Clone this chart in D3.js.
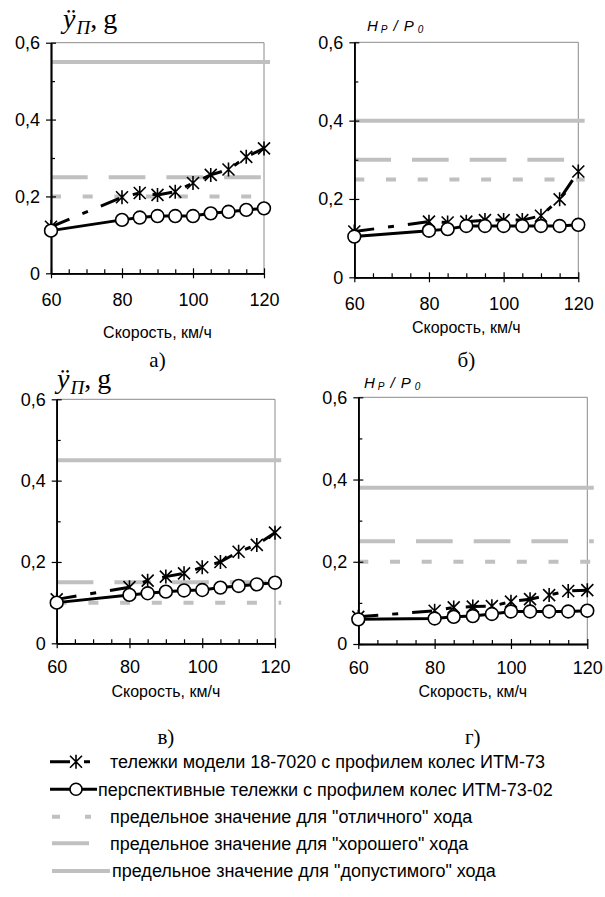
<!DOCTYPE html>
<html>
<head>
<meta charset="utf-8">
<script src="https://cdn.jsdelivr.net/npm/d3@7"></script>
<style>
  body { margin: 0; background: #fff; }
  svg { display: block; }
</style>
</head>
<body>
<div id="chart"></div>
<script>

// Скорость, км/ч
const speeds = [60, 80, 85, 90, 95, 100, 105, 110, 115, 120];

// а) ускорения, g
const oldA = [0.121, 0.198, 0.209, 0.204, 0.212, 0.235, 0.256, 0.27, 0.303, 0.325];
const newA = [0.111, 0.139, 0.145, 0.149, 0.149, 0.149, 0.156, 0.16, 0.165, 0.169];
// б) Hp/P0
const oldB = [0.117, 0.142, 0.14, 0.142, 0.146, 0.146, 0.146, 0.157, 0.199, 0.27];
const newB = [0.104, 0.119, 0.123, 0.131, 0.131, 0.131, 0.131, 0.131, 0.131, 0.134];
// в) ускорения, g
const oldC = [0.108, 0.138, 0.154, 0.164, 0.172, 0.187, 0.2, 0.225, 0.242, 0.272];
const newC = [0.1, 0.119, 0.123, 0.127, 0.13, 0.131, 0.137, 0.141, 0.145, 0.149];
// г) Hp/P0
const oldD = [0.066, 0.081, 0.089, 0.091, 0.092, 0.103, 0.109, 0.119, 0.129, 0.131];
const newD = [0.06, 0.062, 0.066, 0.068, 0.073, 0.079, 0.079, 0.079, 0.079, 0.081];

// пределы: отличный, хороший, допустимый
const limitsA = [0.2, 0.25, 0.55];
const limitsB = [0.25, 0.3, 0.4];
const limitsC = [0.1, 0.15, 0.45];
const limitsD = [0.2, 0.25, 0.38];
const limitSpan = [60, 121.7];

const yTicks = [0, 0.2, 0.4, 0.6];
const yMinor = [0.1, 0.3, 0.5];
const xTicks = [60, 80, 100, 120];
const xMinor = [65, 70, 75, 85, 90, 95, 105, 110, 115];
const panelLetters = ["а)", "б)", "в)", "г)"];
const xTitle = "Скорость, км/ч";

const legendTexts = [
  "тележки модели 18-7020 с профилем колес ИТМ-73",
  "перспективные тележки с профилем колес ИТМ-73-02",
  "предельное значение для \"отличного\" хода",
  "предельное значение для \"хорошего\" хода",
  "предельное значение для \"допустимого\" хода"
];

const WIDTH = 605;
const HEIGHT = 897;
const SANS = "'Liberation Sans', Arial, sans-serif";
const SERIF = "'Liberation Serif', 'Times New Roman', serif";
const GRAY = "#c0c0c0";
const LIMIT_DASH = ["10,21.7", "36.7,21", null];
const OLD_DASH = "20,14,6,14";

const SVG = d3.select("#chart").append("svg")
  .attr("width", WIDTH)
  .attr("height", HEIGHT);

const LAYOUT = [
  { left: 51, right: 264, top: 42.7, bottom: 273.3, pad: 15, titleY: 338, letterY: 367, head: "acc", headX: 63, headY: 28 },
  { left: 354.3, right: 578.3, top: 42.3, bottom: 277.3, pad: 15, titleY: 333, letterY: 367, head: "hp", headX: 367, headY: 31 },
  { left: 56.7, right: 275, top: 399.3, bottom: 643.3, pad: 12, titleY: 697, letterY: 744, head: "acc", headX: 57, headY: 388 },
  { left: 358.3, right: 587.3, top: 397.3, bottom: 644, pad: 12, titleY: 697, letterY: 744, head: "hp", headX: 364, headY: 388 }
];

const DATOS = [
  [oldA, newA, limitsA],
  [oldB, newB, limitsB],
  [oldC, newC, limitsC],
  [oldD, newD, limitsD]
];

const starPath = "M-6,-6L6,6M-6,6L6,-6M0,-7L0,7";

function crearPanel(cfg, datosViejos, datosNuevos, limites, letra) {

  const escalaX = d3.scaleLinear().domain([60, 120]).range([cfg.left, cfg.right]);
  const escalaY = d3.scaleLinear().domain([0, 0.6]).range([cfg.bottom, cfg.top]);

  const g = SVG.append("g");

  // marco gris
  g.append("path")
    .attr("d", `M${escalaX(60)},${escalaY(0.6)}H${escalaX(120)}V${escalaY(0)}`)
    .attr("fill", "none")
    .attr("stroke", "#8a8a8a")
    .attr("stroke-width", 1);

  // lineas limite
  limites.forEach((v, i) => {
    g.append("line")
      .attr("x1", escalaX(limitSpan[0]))
      .attr("x2", escalaX(limitSpan[1]))
      .attr("y1", escalaY(v))
      .attr("y2", escalaY(v))
      .attr("stroke", GRAY)
      .attr("stroke-width", 4)
      .attr("stroke-dasharray", LIMIT_DASH[i]);
  });

  // ejes
  const ejeY = g.append("g").attr("transform", `translate(${cfg.left},0)`);
  ejeY.call(d3.axisLeft(escalaY).tickValues(yTicks).tickSize(5).tickSizeOuter(0).tickPadding(6)
    .tickFormat(d => d === 0 ? "0" : d3.format(".1f")(d).replace(".", ",")));
  ejeY.append("g").call(d3.axisLeft(escalaY).tickValues(yTicks).tickSize(-5).tickSizeOuter(0).tickFormat(""));
  ejeY.append("g").call(d3.axisLeft(escalaY).tickValues(yMinor).tickSize(-4).tickSizeOuter(0).tickFormat(""));

  const ejeX = g.append("g").attr("transform", `translate(0,${cfg.bottom})`);
  ejeX.call(d3.axisBottom(escalaX).tickValues(xTicks).tickSize(5).tickSizeOuter(0).tickPadding(cfg.pad));
  ejeX.append("g").call(d3.axisBottom(escalaX).tickValues(xTicks).tickSize(-5).tickSizeOuter(0).tickFormat(""));
  ejeX.append("g").call(d3.axisBottom(escalaX).tickValues(xMinor).tickSize(-4).tickSizeOuter(0).tickFormat(""));

  g.selectAll(".domain").attr("stroke", "#000").attr("stroke-width", 1.5);
  g.selectAll(".tick line").attr("stroke", "#000").attr("stroke-width", 1.2);
  g.selectAll(".tick text")
    .attr("font-family", SANS)
    .attr("font-size", 18)
    .attr("fill", "#000");

  const linea = d3.line()
    .x((d, i) => escalaX(speeds[i]))
    .y(d => escalaY(d));

  g.append("path")
    .attr("d", linea(datosViejos))
    .attr("fill", "none")
    .attr("stroke", "#000")
    .attr("stroke-width", 3)
    .attr("stroke-dasharray", OLD_DASH);

  g.append("path")
    .attr("d", linea(datosNuevos))
    .attr("fill", "none")
    .attr("stroke", "#000")
    .attr("stroke-width", 3);

  g.selectAll(".star")
    .data(datosViejos)
    .join("path")
    .attr("class", "star")
    .attr("transform", (d, i) => `translate(${escalaX(speeds[i])},${escalaY(d)})`)
    .attr("d", starPath)
    .attr("fill", "none")
    .attr("stroke", "#000")
    .attr("stroke-width", 1.6);

  g.selectAll(".circ")
    .data(datosNuevos)
    .join("circle")
    .attr("class", "circ")
    .attr("cx", (d, i) => escalaX(speeds[i]))
    .attr("cy", d => escalaY(d))
    .attr("r", 6.4)
    .attr("fill", "#fff")
    .attr("stroke", "#000")
    .attr("stroke-width", 1.6);

  // titulo eje X y letra
  const cx = (cfg.left + cfg.right) / 2;
  g.append("text")
    .attr("x", cx)
    .attr("y", cfg.titleY)
    .attr("text-anchor", "middle")
    .attr("font-family", SANS)
    .attr("font-size", 16)
    .text(xTitle);

  g.append("text")
    .attr("x", cx)
    .attr("y", cfg.letterY)
    .attr("text-anchor", "middle")
    .attr("font-family", SERIF)
    .attr("font-size", 21)
    .text(letra);

  // titulo eje Y
  if (cfg.head === "acc") {
    const t = g.append("text")
      .attr("x", cfg.headX)
      .attr("y", cfg.headY)
      .attr("font-family", SERIF)
      .attr("font-size", 28);
    t.append("tspan").attr("font-style", "italic").text("ÿ");
    t.append("tspan").attr("font-style", "italic").attr("font-size", 19).attr("dx", 1).attr("dy", 6).text("П");
    t.append("tspan").attr("dy", -6).text(",");
    t.append("tspan").attr("dx", 6).text("g");
  } else {
    const t = g.append("text")
      .attr("x", cfg.headX)
      .attr("y", cfg.headY)
      .attr("font-family", SANS)
      .attr("font-style", "italic")
      .attr("font-size", 15);
    t.append("tspan").text("H");
    t.append("tspan").attr("font-size", 10).attr("dx", 3).attr("dy", 2).text("P");
    t.append("tspan").attr("dx", 6).attr("dy", -2).text("/");
    t.append("tspan").attr("dx", 6).text("P");
    t.append("tspan").attr("font-size", 10).attr("dx", 4).attr("dy", 2).text("0");
  }
}

LAYOUT.forEach((cfg, i) => crearPanel(cfg, DATOS[i][0], DATOS[i][1], DATOS[i][2], panelLetters[i]));

// leyenda
const leyenda = SVG.append("g").attr("id", "leyenda");
const filasY = [761.7, 789.3, 816.7, 843.3, 871];
const textoX = [110, 98, 110, 110, 112];

leyenda.append("line")
  .attr("x1", 50).attr("x2", 90).attr("y1", filasY[0]).attr("y2", filasY[0])
  .attr("stroke", "#000").attr("stroke-width", 3).attr("stroke-dasharray", OLD_DASH);
leyenda.append("path")
  .attr("transform", `translate(76,${filasY[0]})`)
  .attr("d", starPath)
  .attr("fill", "none").attr("stroke", "#000").attr("stroke-width", 1.6);

leyenda.append("line")
  .attr("x1", 50).attr("x2", 97).attr("y1", filasY[1]).attr("y2", filasY[1])
  .attr("stroke", "#000").attr("stroke-width", 3);
leyenda.append("circle")
  .attr("cx", 76).attr("cy", filasY[1]).attr("r", 6)
  .attr("fill", "#fff").attr("stroke", "#000").attr("stroke-width", 1.6);

const grisX2 = [91, 89, 110];
[0, 1, 2].forEach(i => {
  leyenda.append("line")
    .attr("x1", 52).attr("x2", grisX2[i])
    .attr("y1", filasY[i + 2]).attr("y2", filasY[i + 2])
    .attr("stroke", GRAY).attr("stroke-width", 4)
    .attr("stroke-dasharray", LIMIT_DASH[i] ? (i === 0 ? "8,25" : "37,20") : null);
});

leyenda.selectAll(".ltxt")
  .data(legendTexts)
  .join("text")
  .attr("class", "ltxt")
  .attr("x", (d, i) => textoX[i])
  .attr("y", (d, i) => filasY[i])
  .attr("dy", "0.35em")
  .attr("font-family", SANS)
  .attr("font-size", 18)
  .text(d => d);

</script>
</body>
</html>
